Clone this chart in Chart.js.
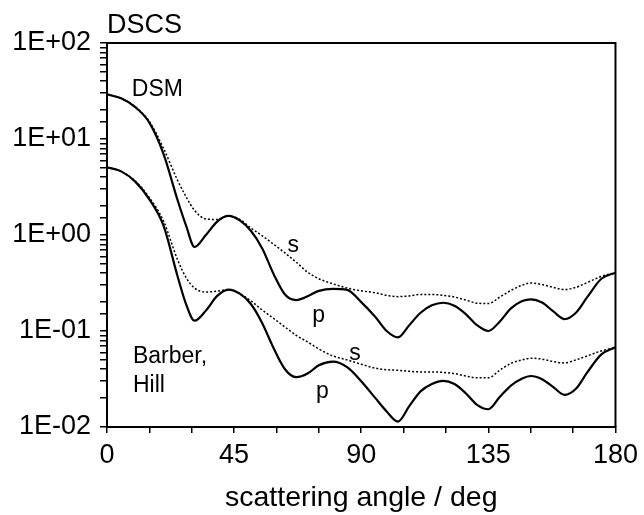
<!DOCTYPE html>
<html>
<head>
<meta charset="utf-8">
<script src="https://cdn.jsdelivr.net/npm/chart.js@4/dist/chart.umd.min.js"></script>
<style>
    html, body { margin: 0; padding: 0; background: #fff; }
    #wrap { width: 644px; height: 515px; }
</style>
</head>
<body>
<div id="wrap"><canvas id="dscsChart"></canvas></div>
<script>
// scattering angle (deg)
const angles = [0, 5, 10, 15, 20, 25, 28, 31, 35, 39, 43, 47, 51, 55, 59, 63, 67, 71, 75, 80, 85, 90,
    95, 99, 103, 107, 111, 115, 119, 123, 127, 131, 135, 139, 143, 147, 150, 154, 158, 162, 166, 170, 175, 180];

// DSM model
const dsmP = [29.2, 26.5, 21.5, 14.8, 7.0, 2.3, 1.25, 0.75, 1.0, 1.38, 1.58, 1.42, 1.1, 0.72, 0.39, 0.24, 0.21, 0.23, 0.262, 0.275, 0.268, 0.2,
    0.14, 0.1, 0.086, 0.115, 0.155, 0.185, 0.197, 0.183, 0.15, 0.115, 0.1, 0.125, 0.172, 0.205, 0.214, 0.198, 0.16, 0.133, 0.155, 0.225, 0.35, 0.405];
const dsmS = [29.2, 26.5, 21.6, 15.2, 8.0, 3.7, 2.5, 1.8, 1.47, 1.45, 1.58, 1.45, 1.18, 0.98, 0.8, 0.65, 0.52, 0.41, 0.35, 0.31, 0.28, 0.262,
    0.25, 0.235, 0.228, 0.232, 0.24, 0.24, 0.235, 0.226, 0.21, 0.195, 0.193, 0.225, 0.265, 0.3, 0.316, 0.305, 0.285, 0.27, 0.285, 0.32, 0.37, 0.405];

// Barber, Hill
const bhP = [5.07, 4.6, 3.6, 2.35, 1.25, 0.37, 0.19, 0.128, 0.163, 0.232, 0.27, 0.245, 0.19, 0.12, 0.066, 0.04, 0.033, 0.036, 0.044, 0.048, 0.042, 0.03,
    0.02, 0.0145, 0.0114, 0.0165, 0.0235, 0.028, 0.0302, 0.028, 0.0225, 0.017, 0.0153, 0.0205, 0.027, 0.032, 0.034, 0.0315, 0.026, 0.0216, 0.025, 0.037, 0.057, 0.0676];
const bhS = [5.07, 4.6, 3.65, 2.45, 1.4, 0.55, 0.36, 0.28, 0.255, 0.26, 0.27, 0.245, 0.205, 0.165, 0.135, 0.11, 0.09, 0.077, 0.065, 0.055, 0.05, 0.045,
    0.041, 0.0395, 0.039, 0.038, 0.0375, 0.0375, 0.037, 0.036, 0.034, 0.0325, 0.0325, 0.039, 0.046, 0.05, 0.052, 0.051, 0.048, 0.0465, 0.05, 0.055, 0.062, 0.0676];

const xTickLabels = [0, 45, 90, 135, 180];
const yTickLabels = ["1E-02", "1E-01", "1E+00", "1E+01", "1E+02"];

const FONT = "'Liberation Sans', Arial, sans-serif";

function pts(values) {
    return angles.map((a, i) => ({ x: a, y: values[i] }));
}

function solid(label, values) {
    return { label: label, data: pts(values), borderColor: "#000", borderWidth: 2.2, pointRadius: 0, cubicInterpolationMode: "monotone" };
}
function dotted(label, values) {
    return { label: label, data: pts(values), borderColor: "#000", borderWidth: 1.5, borderDash: [2, 2], pointRadius: 0, cubicInterpolationMode: "monotone" };
}

// text written inside the plot, placed in data coordinates
const notes = [
    { text: "DSM", a: 8.8, v: 28 },
    { text: "Barber,", a: 9.2, v: 0.046 },
    { text: "Hill", a: 9.2, v: 0.0232 },
    { text: "s", a: 63.9, v: 0.665 },
    { text: "p", a: 72.7, v: 0.124 },
    { text: "s", a: 85.8, v: 0.0499 },
    { text: "p", a: 74, v: 0.02 },
];

const framePlugin = {
    id: "frame",
    afterDraw(chart) {
        const ctx = chart.ctx, area = chart.chartArea;
        const xs = chart.scales.x, ys = chart.scales.y;
        ctx.save();
        ctx.strokeStyle = "#000";
        ctx.lineWidth = 2;
        ctx.beginPath();
        ctx.moveTo(area.left, area.top);
        ctx.lineTo(area.right, area.top);
        ctx.lineTo(area.right, area.bottom);
        ctx.stroke();

        ctx.fillStyle = "#000";
        ctx.textAlign = "left";
        ctx.textBaseline = "alphabetic";
        ctx.font = "23px " + FONT;
        notes.forEach((n) => {
            ctx.fillText(n.text, xs.getPixelForValue(n.a), ys.getPixelForValue(n.v));
        });
        ctx.font = "27px " + FONT;
        ctx.fillText("DSCS", area.left, area.top - 10);
        ctx.restore();
    },
};

const ctx = document.getElementById("dscsChart").getContext("2d");
new Chart(ctx, {
    type: "line",
    data: {
        datasets: [solid("DSM p", dsmP), dotted("DSM s", dsmS), solid("Barber, Hill p", bhP), dotted("Barber, Hill s", bhS)],
    },
    options: {
        responsive: true,
        maintainAspectRatio: false,
        animation: false,
        layout: { padding: { top: 43, right: 27, bottom: 0, left: 0 } },
        plugins: { legend: { display: false }, tooltip: { enabled: false } },
        scales: {
            x: {
                type: "linear",
                min: 0,
                max: 180,
                afterFit: (scale) => { scale.height = 88; },
                border: { display: true, color: "#000", width: 2 },
                grid: { drawOnChartArea: false, color: "#000", tickLength: 6, lineWidth: 1.5 },
                ticks: {
                    stepSize: 15,
                    autoSkip: false,
                    maxRotation: 0,
                    padding: 6,
                    color: "#000",
                    font: { family: FONT, size: 27 },
                    callback: (v) => (xTickLabels.includes(v) ? String(v) : ""),
                },
                title: {
                    display: true,
                    text: "scattering angle / deg",
                    color: "#000",
                    font: { family: FONT, size: 28.5 },
                    padding: { top: 0, bottom: 0 },
                },
            },
            y: {
                type: "logarithmic",
                min: 0.01,
                max: 100,
                afterFit: (scale) => { scale.width = 107; },
                border: { display: true, color: "#000", width: 2 },
                grid: { drawOnChartArea: false, color: "#000", tickLength: 7, lineWidth: 1.5 },
                ticks: {
                    autoSkip: false,
                    padding: 9,
                    color: "#000",
                    font: { family: FONT, size: 27 },
                    callback: (v) => {
                        const e = Math.log10(v);
                        if (Math.abs(e - Math.round(e)) > 1e-6) return "";
                        return yTickLabels[Math.round(e) + 2];
                    },
                },
            },
        },
    },
    plugins: [framePlugin],
});
</script>
</body>
</html>
